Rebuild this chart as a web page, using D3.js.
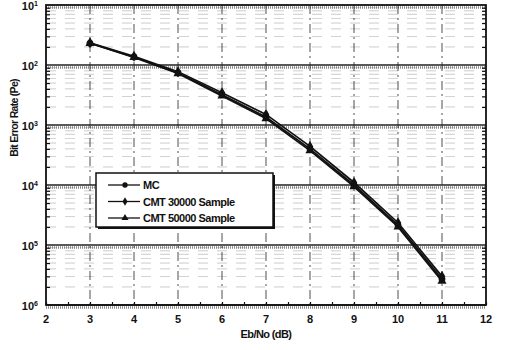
<!DOCTYPE html>
<html>
<head>
<meta charset="utf-8">
<script src="https://cdn.jsdelivr.net/npm/d3@7"></script>
<style>
  body { margin: 0; background: #fff; }
  text { font-family: "Liberation Sans", Arial, sans-serif; font-weight: bold; fill: #111; }
</style>
</head>
<body>
<div id="grafico"></div>
<script>
// Eb/No points (dB)
const ebno = [3, 4, 5, 6, 7, 8, 9, 10, 11];
// bit error rate for each series
const serieMC = [2.3e-2, 1.36e-2, 7.4e-3, 3.2e-3, 1.36e-3, 4.0e-4, 1.0e-4, 2.15e-5, 2.7e-6];
const serieCMT30 = [2.35e-2, 1.4e-2, 7.7e-3, 3.45e-3, 1.5e-3, 4.4e-4, 1.1e-4, 2.35e-5, 3.0e-6];
const serieCMT50 = [2.3e-2, 1.34e-2, 7.2e-3, 3.05e-3, 1.28e-3, 3.75e-4, 0.94e-4, 2.0e-5, 2.5e-6];
const nombres = ['MC', 'CMT 30000 Sample', 'CMT 50000 Sample'];
const xTicks = [2, 3, 4, 5, 6, 7, 8, 9, 10, 11, 12];
const yTicks = [1e-1, 1e-2, 1e-3, 1e-4, 1e-5, 1e-6];
const yTickExp = ['1', '2', '3', '4', '5', '6'];

const series = [serieMC, serieCMT30, serieCMT50];
const margin = { top: 5, right: 19, bottom: 45, left: 46 };
const width = 505 - margin.left - margin.right;
const height = 350 - margin.top - margin.bottom;

const svgBase = d3.select('#grafico').append('svg')
  .attr('width', 505).attr('height', 350);
const svg = svgBase.append('g')
  .attr('transform', `translate(${margin.left},${margin.top})`);

const x = d3.scaleLinear().domain([2, 12]).range([0, width]);
const y = d3.scaleLog().domain([1e-6, 1e-1]).range([height, 0]);

// minor horizontal grid (dashed, faint)
const minors = [];
for (let e = -6; e < -1; e++) for (let m = 2; m < 10; m++) minors.push(m * Math.pow(10, e));
svg.selectAll('.minor').data(minors).enter().append('line')
  .attr('x1', 0).attr('x2', width)
  .attr('y1', d => y(d)).attr('y2', d => y(d))
  .attr('stroke', '#666').attr('stroke-width', 0.6)
  .attr('stroke-dasharray', '10,9').attr('opacity', 0.55);

// decade grid lines
svg.selectAll('.decade').data(yTicks.slice(1)).enter().append('line')
  .attr('x1', 0).attr('x2', width)
  .attr('y1', d => y(d)).attr('y2', d => y(d))
  .attr('stroke', '#222').attr('stroke-width', 1.6);
svg.selectAll('.decadeB').data(yTicks).enter().append('line')
  .attr('x1', 0).attr('x2', width)
  .attr('y1', d => y(d) + 2.5).attr('y2', d => y(d) + 2.5)
  .attr('stroke', '#888').attr('stroke-width', 2.5)
  .attr('stroke-dasharray', '1,1');

// vertical grid
svg.selectAll('.vgrid').data(xTicks.slice(1, -1)).enter().append('line')
  .attr('x1', d => x(d)).attr('x2', d => x(d))
  .attr('y1', 0).attr('y2', height)
  .attr('stroke', '#222').attr('stroke-width', 0.8)
  .attr('stroke-dasharray', '9,4,2,4');

// axes with inward ticks
svg.append('g')
  .attr('transform', `translate(0,${height})`)
  .call(d3.axisBottom(x).tickValues(d3.range(2, 12.01, 0.5)).tickSize(-3).tickFormat(''))
  .call(g => g.select('.domain').remove());
svg.append('g')
  .call(d3.axisLeft(y).tickValues(minors).tickSize(-4).tickFormat(''))
  .call(g => g.select('.domain').remove());
svg.append('g')
  .attr('transform', `translate(${width},0)`)
  .call(d3.axisRight(y).tickValues(minors).tickSize(-4).tickFormat(''))
  .call(g => g.select('.domain').remove());
svg.selectAll('.tick line').attr('stroke', '#111').attr('stroke-width', 1.2);

svg.append('rect').attr('width', width).attr('height', height)
  .attr('fill', 'none').attr('stroke', '#111').attr('stroke-width', 1.8);

// tick labels
svg.selectAll('.xl').data(xTicks).enter().append('text')
  .attr('x', d => x(d)).attr('y', height + 18)
  .attr('text-anchor', 'middle').style('font-size', '11px')
  .text(d => d);

const yl = svg.selectAll('.yl').data(yTicks).enter().append('text')
  .attr('x', -8).attr('y', d => y(d) + 5)
  .attr('text-anchor', 'end').style('font-size', '11px');
yl.append('tspan').text('10');
yl.append('tspan').attr('dy', -4).style('font-size', '7px').text((d, i) => yTickExp[i]);

svg.append('text').attr('x', width / 2).attr('y', height + 33)
  .attr('text-anchor', 'middle').style('font-size', '11px')
  .attr('letter-spacing', '-0.6').text('Eb/No (dB)');
svg.append('text')
  .attr('transform', `translate(-28,${y(1e-3) - 7}) rotate(-90)`)
  .attr('text-anchor', 'middle').style('font-size', '10.5px')
  .attr('letter-spacing', '-0.7').text('Bit Error Rate (Pe)');

// curves
const linea = d3.line().x((d, i) => x(ebno[i])).y(d => y(d));
const simbolos = [d3.symbolCircle, d3.symbolDiamond, d3.symbolTriangle];
series.forEach((s, k) => {
  svg.append('path').datum(s)
    .attr('d', linea).attr('fill', 'none')
    .attr('stroke', '#111').attr('stroke-width', 1.7);
  svg.selectAll('.m' + k).data(s).enter().append('path')
    .attr('transform', (d, i) => `translate(${x(ebno[i])},${y(d)})`)
    .attr('d', d3.symbol().type(simbolos[k]).size(36))
    .attr('fill', '#111');
});

// legend
const ley = svg.append('g').attr('transform', 'translate(50,168)');
ley.append('rect').attr('x', 2).attr('y', 2).attr('width', 177).attr('height', 54).attr('fill', '#111');
ley.append('rect').attr('width', 177).attr('height', 54)
  .attr('fill', '#fff').attr('stroke', '#111').attr('stroke-width', 1.5);
nombres.forEach((n, k) => {
  const yy = 12 + k * 16.5;
  ley.append('line').attr('x1', 12).attr('x2', 44).attr('y1', yy).attr('y2', yy)
    .attr('stroke', '#111').attr('stroke-width', 1.3);
  ley.append('path').attr('transform', `translate(29,${yy})`)
    .attr('d', d3.symbol().type(simbolos[k]).size(22)).attr('fill', '#111');
  ley.append('text').attr('x', 47).attr('y', yy + 4)
    .style('font-size', '11px').attr('letter-spacing', '-0.5').text(n);
});
</script>
</body>
</html>
